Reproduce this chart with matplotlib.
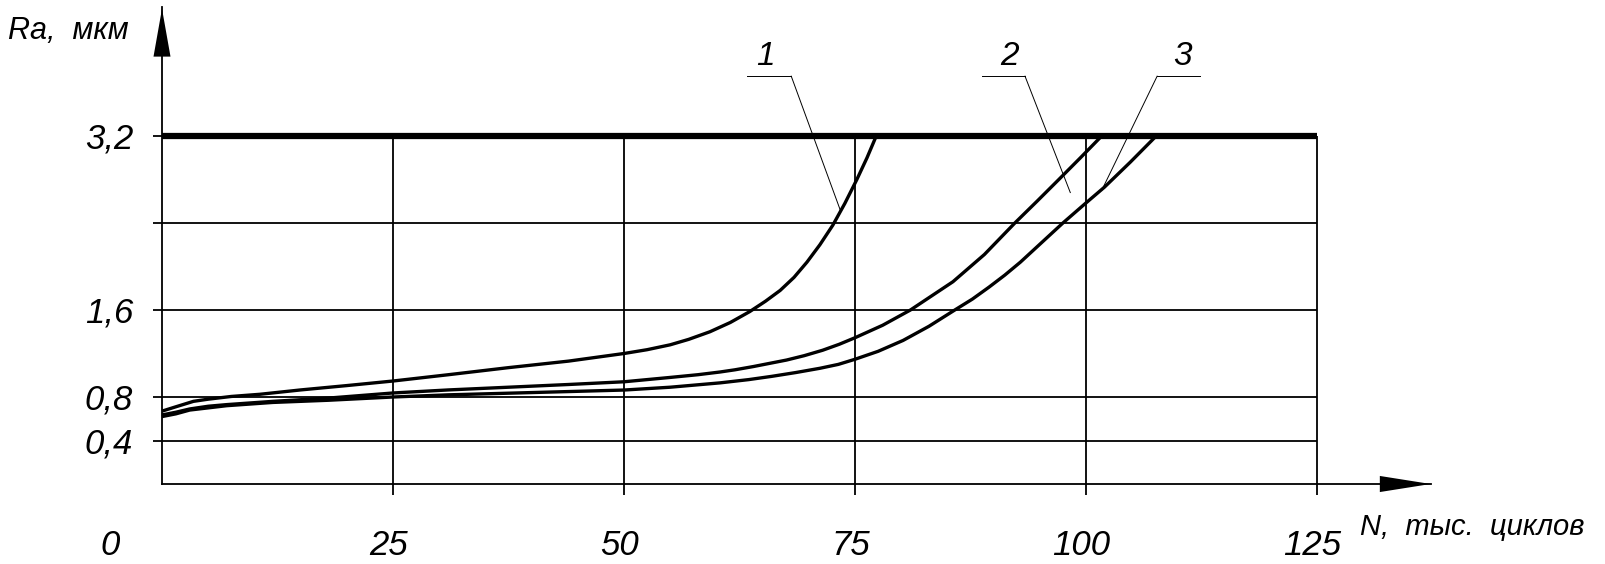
import matplotlib
matplotlib.use("Agg")
import matplotlib.pyplot as plt

# ---------------- data ----------------
# N, thousand cycles -> Ra, um
n1 = [0, 1.5, 3.4, 5, 7.5, 10.6, 15, 20, 25, 31, 37.5, 44, 50, 52.5, 55, 57,
      59.3, 61.5, 63.6, 65.3, 66.9, 68.4, 69.8, 71.2, 72.6, 73.9, 75.2, 76.3,
      77.3]
ra1 = [0.67, 0.71, 0.76, 0.78, 0.805, 0.825, 0.865, 0.905, 0.947, 1.005, 1.07,
       1.13, 1.20, 1.235, 1.28, 1.33, 1.40, 1.485, 1.585, 1.68, 1.78, 1.90,
       2.04, 2.20, 2.38, 2.58, 2.80, 3.0, 3.2]

n2 = [0, 1.5, 3, 5, 7, 12, 18, 25, 31, 37.5, 44, 50, 55, 58, 60.4, 62, 64,
      67.6, 69.5, 71.5, 73.3, 75, 78, 81, 83.3, 85.6, 89, 92.3, 94.7, 97, 99.4,
      101.7]
ra2 = [0.635, 0.66, 0.69, 0.715, 0.73, 0.76, 0.79, 0.837, 0.865, 0.89, 0.915,
       0.94, 0.98, 1.005, 1.03, 1.05, 1.08, 1.14, 1.18, 1.23, 1.285, 1.345,
       1.46, 1.60, 1.73, 1.86, 2.11, 2.40, 2.60, 2.795, 3.0, 3.2]

n3 = [0, 1.5, 3, 5, 7, 12, 18, 25, 31, 37.5, 44, 50, 55, 60.4, 63.5, 66, 68.6,
      71.2, 73.2, 75, 77.5, 80.2, 83, 85.8, 87.7, 89.5, 91.2, 92.9, 95.2, 97.5,
      99.8, 102, 104.8, 107.6]
ra3 = [0.62, 0.645, 0.68, 0.70, 0.72, 0.75, 0.77, 0.80, 0.82, 0.835, 0.85,
       0.864, 0.89, 0.93, 0.96, 0.99, 1.025, 1.064, 1.10, 1.147, 1.22, 1.32,
       1.45, 1.60, 1.70, 1.81, 1.92, 2.04, 2.22, 2.40, 2.57, 2.73, 2.96, 3.2]

x_ticks = [0, 25, 50, 75, 100, 125]
x_tick_labels = ["0", "25", "50", "75", "100", "125"]
y_grid = [0.4, 0.8, 1.6, 2.4, 3.2]
y_tick_values = [0.4, 0.8, 1.6, 3.2]
y_tick_labels = ["0,4", "0,8", "1,6", "3,2"]
limit_ra = 3.2

curve_labels = ["1", "2", "3"]
# leader lines: label position, horizontal shelf (x0, x1), pointer end on curve
label_pos = [(65.3, 3.85), (91.7, 3.85), (110.5, 3.85)]
shelf = [(63.3, 68.1), (88.7, 93.4), (107.7, 112.3)]
shelf_y = 3.75
pointer_from = [68.1, 93.4, 107.7]
pointer_to = [(73.4, 2.52), (98.3, 2.68), (101.7, 2.70)]

# ---------------- figure ----------------
W, H, DPI = 1605, 564, 100
fig = plt.figure(figsize=(W / DPI, H / DPI), dpi=DPI)
ax = fig.add_axes([0, 0, 1, 1])
# map data coordinates to the reference pixel layout
px_per_x = 9.24
px_per_y = 108.75
x0_px, y0_px = 162, 484
ax.set_xlim(-x0_px / px_per_x, (W - x0_px) / px_per_x)
ax.set_ylim(-(H - y0_px) / px_per_y, y0_px / px_per_y)
ax.axis("off")

font = ["Liberation Sans Narrow", "Liberation Sans", "DejaVu Sans"]
k = "black"

# grid
ax.hlines(y_grid, -0.97, 125, colors=k, lw=1.3)
ax.vlines(x_ticks[1:], -0.10, limit_ra, colors=k, lw=1.3)
# limit line
ax.hlines([limit_ra], 0, 125, colors=k, lw=4.5)
# axes
ax.plot([0, 0], [0, 4.39], color=k, lw=1.3)
ax.plot([0, 137.3], [0, 0], color=k, lw=1.3)
ax.fill([-0.92, 0.92, 0], [3.93, 3.93, 4.37], color=k, lw=0)
ax.fill([131.8, 131.8, 137.3], [-0.074, 0.074, 0], color=k, lw=0)

# curves
for n, ra in [(n1, ra1), (n2, ra2), (n3, ra3)]:
    ax.plot(n, ra, color=k, lw=2.4, solid_capstyle="butt", solid_joinstyle="round")

# leaders and numbers
for lab, (lx, ly), (s0, s1), pf, (tx, ty) in zip(curve_labels, label_pos, shelf,
                                                 pointer_from, pointer_to):
    ax.plot([s0, s1], [shelf_y, shelf_y], color=k, lw=0.7)
    ax.plot([pf, tx], [shelf_y, ty], color=k, lw=0.7)
    ax.text(lx, ly, lab, ha="center", va="baseline", family=font,
            style="italic", fontsize=24, color=k)

# tick labels
for xv, lab in zip(x_ticks, x_tick_labels):
    xpos = xv - 0.5 if xv != 0 else -5.6
    ax.text(xpos, -0.655, lab, ha="center", va="baseline", family=font,
            style="italic", fontsize=25, color=k)
for yv, lab in zip(y_tick_values, y_tick_labels):
    ax.text(-3.1, yv - 0.115, lab, ha="right", va="baseline", family=font,
            style="italic", fontsize=25, color=k)

# axis titles
ax.text(-16.7, 4.09, "Ra,  мкм", ha="left", va="baseline", family=font,
        style="italic", fontsize=22, color=k)
ax.text(129.6, -0.47, "N,  тыс.  циклов", ha="left", va="baseline", family=font,
        style="italic", fontsize=21, color=k)

fig.savefig("out.png", dpi=DPI, facecolor="white")
